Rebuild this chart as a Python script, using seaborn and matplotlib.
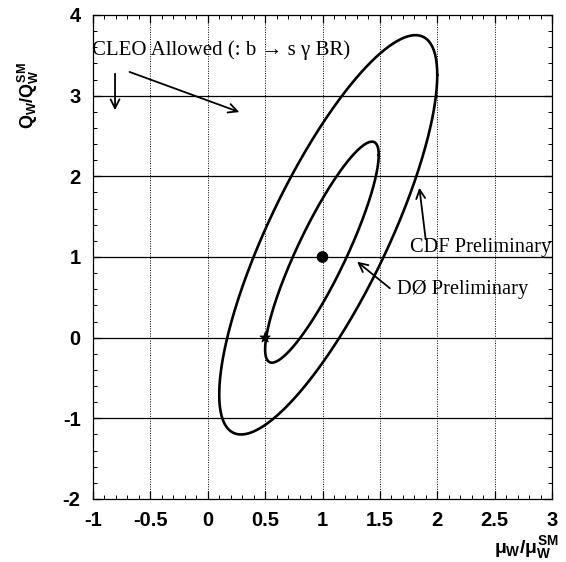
import numpy as np
import pandas as pd
import matplotlib
matplotlib.use("Agg")
import matplotlib.pyplot as plt
from matplotlib.ticker import MultipleLocator
import seaborn as sns

# Contour ellipses: centre (mu, Q), half-extents along each axis, and the
# cosine of the phase linking the two axes (tilt / correlation).
contour_names = ["CDF Preliminary", "DØ Preliminary"]
centre_mu = [1.05, 0.995]
centre_q = [1.275, 1.06]
half_width_mu = [0.95, 0.495]
half_height_q = [2.475, 1.37]
correlation = [0.80, 0.88]

# Reference points: Standard Model and the star point
point_mu = [1.0, 0.5]
point_q = [1.0, 0.0]
point_kind = ["SM", "star"]

x_ticks = [-1, -0.5, 0, 0.5, 1, 1.5, 2, 2.5, 3]
x_tick_labels = ["-1", "-0.5", "0", "0.5", "1", "1.5", "2", "2.5", "3"]
y_ticks = [-2, -1, 0, 1, 2, 3, 4]
y_tick_labels = ["-2", "-1", "0", "1", "2", "3", "4"]

sns.set_theme(style="ticks")
plt.rcParams["mathtext.fontset"] = "custom"
plt.rcParams["mathtext.rm"] = "Liberation Sans:bold"
plt.rcParams["mathtext.bf"] = "Liberation Sans:bold"
plt.rcParams["mathtext.it"] = "Liberation Sans:bold"

fig = plt.figure(figsize=(5.66, 5.62), dpi=100)
ax = fig.add_axes([93 / 566, 1 - 499 / 562, (552 - 93) / 566, (499 - 15) / 562])

# Build the closed contour curves
t = np.linspace(0, 2 * np.pi, 400)
rows = []
for name, cx, cy, a, b, c in zip(contour_names, centre_mu, centre_q,
                                 half_width_mu, half_height_q, correlation):
    d = np.arccos(c)
    xs = cx + a * np.cos(t)
    ys = cy + b * np.cos(t - d)
    rows.append(pd.DataFrame({"mu": xs, "q": ys, "contour": name, "order": np.arange(len(t))}))
curves = pd.concat(rows, ignore_index=True)

# Grid: solid horizontal lines, dotted vertical lines
for yv in y_ticks[1:-1]:
    ax.axhline(yv, color="black", lw=0.9, zorder=1)
for xv in x_ticks[1:-1]:
    ax.axvline(xv, color="black", lw=0.7, ls=(0, (1, 1.5)), zorder=1)

sns.lineplot(data=curves, x="mu", y="q", hue="contour", units="contour",
             estimator=None, sort=False, palette=["black", "black"],
             lw=1.9, legend=False, ax=ax, zorder=3)

pts = pd.DataFrame({"mu": point_mu, "q": point_q, "kind": point_kind})
sns.scatterplot(data=pts, x="mu", y="q", style="kind",
                markers={"SM": "o", "star": "*"}, color="black",
                s=60, edgecolor="black", legend=False, ax=ax, zorder=4)

ax.set_xlim(-1, 3)
ax.set_ylim(-2, 4)
ax.set_xticks(x_ticks)
ax.set_xticklabels(x_tick_labels)
ax.set_yticks(y_ticks)
ax.set_yticklabels(y_tick_labels)
ax.xaxis.set_minor_locator(MultipleLocator(0.1))
ax.yaxis.set_minor_locator(MultipleLocator(0.2))
ax.tick_params(which="both", direction="in", top=True, right=True, color="black")
ax.tick_params(which="major", length=6, width=0.9)
ax.tick_params(which="minor", length=3, width=0.7)
ax.tick_params(axis="y", which="major", pad=9)
ax.tick_params(axis="x", which="major", pad=9)
for lab in ax.get_xticklabels() + ax.get_yticklabels():
    lab.set_fontfamily("Liberation Sans")
    lab.set_fontweight("bold")
    lab.set_fontsize(14.5)
    lab.set_color("black")
for sp in ax.spines.values():
    sp.set_color("black")
    sp.set_linewidth(0.9)

ax.set_xlabel("")
ax.set_ylabel("")
fig.text(28 / 566, 1 - 96 / 562, r"$Q_W/Q_W^{SM}$", rotation=90,
         ha="center", va="center", fontsize=13, color="black")
fig.text(526 / 566, 1 - 548 / 562, r"$\mu_W/\mu_W^{SM}$",
         ha="center", va="center", fontsize=14, color="black")

serif = "Liberation Serif"
ax.text(-1.01, 3.566, "CLEO Allowed (: b \u2192 s \u03b3 BR)", family=serif,
        fontsize=15, ha="left", va="center", color="black", zorder=5)
arrow = dict(arrowstyle="->", color="black", lw=1.3, mutation_scale=16)
ax.annotate("", xy=(-0.808, 2.785), xytext=(-0.808, 3.306), arrowprops=arrow, zorder=5)
ax.annotate("", xy=(0.298, 2.785), xytext=(-0.704, 3.306), arrowprops=arrow, zorder=5)

ax.text(1.763, 1.112, contour_names[0], family=serif, fontsize=14.7,
        ha="left", va="center", color="black", zorder=5)
ax.annotate("", xy=(1.841, 1.893), xytext=(1.902, 1.186), arrowprops=arrow, zorder=5)

ax.text(1.649, 0.591, contour_names[1], family=serif, fontsize=14.7,
        ha="left", va="center", color="black", zorder=5)
ax.annotate("", xy=(1.283, 0.963), xytext=(1.606, 0.591), arrowprops=arrow, zorder=5)

fig.savefig("out.png", dpi=100)
